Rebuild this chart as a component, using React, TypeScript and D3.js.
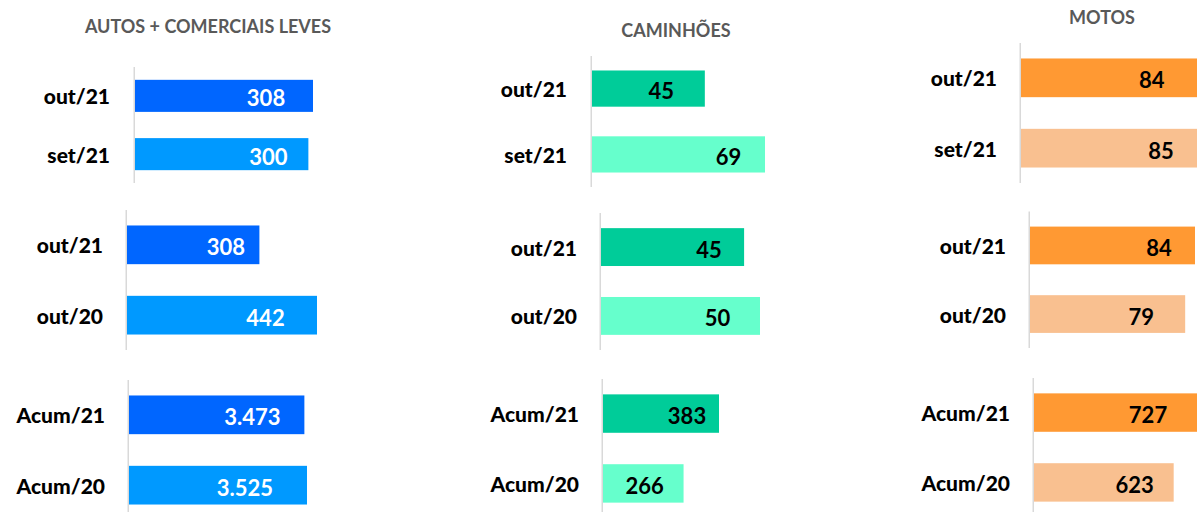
import React from 'react';
import * as d3 from 'd3';

// data
const vehicleTypes = ['AUTOS + COMERCIAIS LEVES', 'CAMINHÕES', 'MOTOS'];
const periodLabels = [
  ['out/21', 'set/21'],
  ['out/21', 'out/20'],
  ['Acum/21', 'Acum/20'],
];
const autosValues = [
  [308, 300],
  [308, 442],
  [3473, 3525],
];
const caminhoesValues = [
  [45, 69],
  [45, 50],
  [383, 266],
];
const motosValues = [
  [84, 85],
  [84, 79],
  [727, 623],
];
const seriesByType = [autosValues, caminhoesValues, motosValues];

// styles
const darkColors = ['#0066ff', '#00cc99', '#ff9933'];
const lightColors = ['#0099ff', '#66ffcc', '#f9c090'];
const valueColors = ['#ffffff', '#000000', '#000000'];

// layout (pixels)
const titlePos = [
  { x: 208, y: 33 },
  { x: 676, y: 37 },
  { x: 1102, y: 24 },
];
const panels = [
  [
    { x0: 135, y0: 67, y1: 183, maxLen: 178, labelRight: 110, inset: [47, 40] },
    { x0: 592, y0: 56, y1: 187, maxLen: 173, labelRight: 567, inset: [43.5, 36.5] },
    { x0: 1021, y0: 43, y1: 183, maxLen: 182, labelRight: 997, inset: [49, 42] },
  ],
  [
    { x0: 127, y0: 210, y1: 350, maxLen: 190, labelRight: 103, inset: [33.5, 51.5] },
    { x0: 601, y0: 213, y1: 350, maxLen: 159, labelRight: 577, inset: [35, 42.5] },
    { x0: 1030, y0: 211.5, y1: 348, maxLen: 165, labelRight: 1006, inset: [36, 44] },
  ],
  [
    { x0: 129, y0: 380, y1: 520, maxLen: 178, labelRight: 105, inset: [52, 62] },
    { x0: 603, y0: 379, y1: 518, maxLen: 116, labelRight: 579, inset: [32, 39] },
    { x0: 1034, y0: 378, y1: 517, maxLen: 163, labelRight: 1010, inset: [49, 39] },
  ],
];

const ptBR = d3.formatLocale({ decimal: ',', thousands: '.', grouping: [3], currency: ['R$', ''] });
const fmt = ptBR.format(',d');

const FONT = 'Lato, "Open Sans", sans-serif';

const Panel = ({ row, col }: { row: number; col: number }) => {
  const p = panels[row][col];
  const values = seriesByType[col][row];
  const cats = periodLabels[row];

  const x = d3
    .scaleLinear()
    .domain([0, d3.max(values) as number])
    .range([p.x0, p.x0 + p.maxLen]);
  const y = d3
    .scaleBand<string>()
    .domain(cats.map((c, i) => i + ''))
    .range([p.y0, p.y1])
    .paddingInner(0.45)
    .paddingOuter(0.22);

  return (
    <g>
      {values.map((v, i) => {
        const yy = y(i + '') as number;
        const cy = yy + y.bandwidth() / 2;
        return (
          <g key={i}>
            <rect
              x={p.x0}
              y={yy}
              width={x(v) - p.x0}
              height={y.bandwidth()}
              fill={i === 0 ? darkColors[col] : lightColors[col]}
            />
            <text
              x={p.labelRight}
              y={cy}
              textAnchor="end"
              dominantBaseline="central"
              fontFamily={FONT}
              fontWeight="900"
              fontSize={21}
              fill="#000"
            >
              {cats[i]}
            </text>
            <text
              x={x(v) - p.inset[i]}
              y={cy + 2}
              textAnchor="middle"
              dominantBaseline="central"
              fontFamily={FONT}
              fontWeight="bold"
              fontSize={22}
              fill={valueColors[col]}
            >
              {fmt(v)}
            </text>
          </g>
        );
      })}
      <line x1={p.x0 - 0.75} x2={p.x0 - 0.75} y1={p.y0} y2={p.y1} stroke="#d9d9d9" strokeWidth={1.5} />
    </g>
  );
};

export default function App() {
  return (
    <svg
      width={1197}
      height={512}
      style={{ position: 'absolute', left: 0, top: 0, background: '#fff' }}
    >
      <rect width={1197} height={512} fill="#fff" />
      {vehicleTypes.map((t, c) => (
        <text
          key={t}
          x={titlePos[c].x}
          y={titlePos[c].y}
          textAnchor="middle"
          fontFamily={FONT}
          fontWeight="bold"
          fontSize={18}
          fill="#595959"
        >
          {t}
        </text>
      ))}
      {panels.map((r, ri) => r.map((_, ci) => <Panel key={ri + '-' + ci} row={ri} col={ci} />))}
    </svg>
  );
}
